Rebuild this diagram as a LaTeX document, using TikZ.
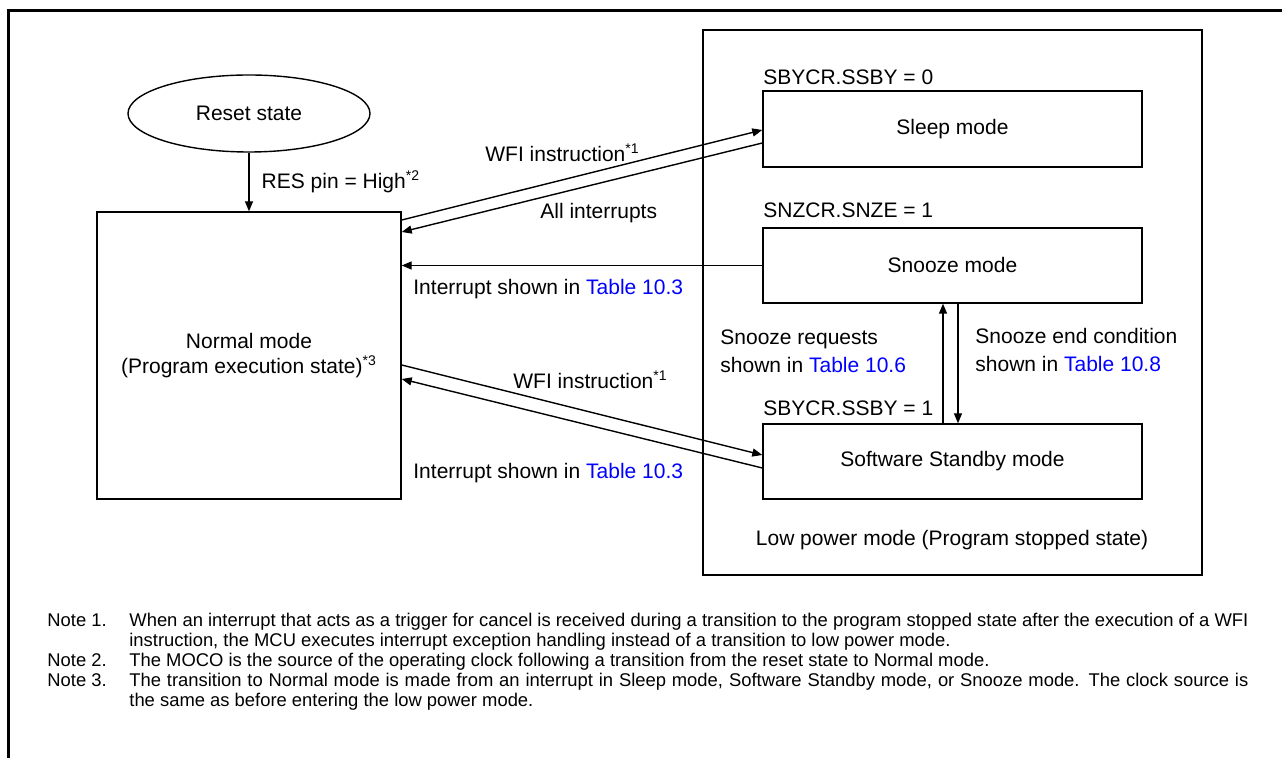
\documentclass[tikz,border=0pt]{standalone}
\usepackage{fontspec}
\setmainfont{Liberation Sans}
\usetikzlibrary{shapes.geometric,arrows.meta}
\definecolor{linkblue}{RGB}{0,0,255}
\newcommand{\lbl}{\fontsize{10.5}{14}\selectfont}
\newcommand{\notefnt}{\fontsize{9.2}{9.85}\selectfont}
\newcommand{\supmark}[1]{\textsuperscript{\fontsize{7}{8}\selectfont #1}}
\newcommand{\fullline}[1]{\makebox[559.5pt][s]{#1}}
\tikzset{
  box/.style={draw, line width=0.7pt, inner sep=0pt, font=\lbl},
  conn/.style={line width=0.7pt, -{Triangle[length=5pt,width=4pt]}},
  txt/.style={inner sep=0pt, font=\lbl},
  notetxt/.style={inner sep=0pt, font=\notefnt, anchor=base west},
}
\begin{document}
\begin{tikzpicture}[x=0.5pt,y=-0.5pt]
\useasboundingbox (0,0) rectangle (1282,758);
% outer frame
\draw[line width=1.5pt] (8.5,758) -- (8.5,10.5) -- (1282,10.5);
% low power container
\node[box, minimum width=249.5pt, minimum height=272.5pt] (lp) at (952.5,302.5) {};
% nodes
\node[box, ellipse, minimum width=121pt, minimum height=38.5pt] (reset) at (249,113.5) {Reset state};
\node[box, minimum width=152pt, minimum height=143.5pt, align=center] (normal) at (249,355.5) {Normal mode\\[-1.5pt](Program execution state)\supmark{*3}};
\node[box, minimum width=189.5pt, minimum height=38pt] (sleep) at (952.5,129) {Sleep mode};
\node[box, minimum width=189.5pt, minimum height=37.5pt] (snooze) at (952.5,265.5) {Snooze mode};
\node[box, minimum width=189.5pt, minimum height=37.5pt] (ssb) at (952.5,461.5) {Software Standby mode};
% labels
\node[txt, anchor=west] (l0) at (763,77) {SBYCR.SSBY = 0};
\node[txt, anchor=west] (l1) at (763,210) {SNZCR.SNZE = 1};
\node[txt, anchor=west] (l2) at (763,408) {SBYCR.SSBY = 1};
\node[txt, anchor=center] (lpl) at (952,540) {Low power mode (Program stopped state)};
% connectors
\draw[conn] (reset.south) -- (normal.north) node[txt, pos=0.5, anchor=west, xshift=6pt] (lres) {RES pin = High\supmark{*2}};
\draw[conn] (normal.east |- 0,220) -- (sleep.west |- 0,130);
\node[txt, anchor=west] (lwfi1) at (485,153) {WFI instruction\supmark{*1}};
\draw[conn] (sleep.west |- 0,143) -- (normal.east |- 0,232);
\node[txt, anchor=west] (lall) at (540,213) {All interrupts};
\draw[conn] (snooze.west) -- (normal.east |- snooze.west);
\node[txt, anchor=west] (lint1) at (413,289) {Interrupt shown in \textcolor{linkblue}{Table 10.3}};
\draw[conn] (normal.east |- 0,365) -- (ssb.west |- 0,455);
\node[txt, anchor=west] (lwfi2) at (513,380) {WFI instruction\supmark{*1}};
\draw[conn] (ssb.west |- 0,468) -- (normal.east |- 0,379);
\node[txt, anchor=west] (lint2) at (413,473) {Interrupt shown in \textcolor{linkblue}{Table 10.3}};
\draw[conn] (ssb.north -| 943,0) -- (snooze.south -| 943,0);
\draw[conn] (snooze.south -| 958,0) -- (ssb.north -| 958,0);
\node[txt, anchor=west, align=left] (lsr) at (720,351) {Snooze requests\\shown in \textcolor{linkblue}{Table 10.6}};
\node[txt, anchor=west, align=left] (lse) at (975,350) {Snooze end condition\\shown in \textcolor{linkblue}{Table 10.8}};
% notes
\node[notetxt] (n1) at (47,627) {Note 1.};
\node[notetxt] (n1a) at (129,627) {\fullline{When an interrupt that acts as a trigger for cancel is received during a transition to the program stopped state after the execution of a WFI}};
\node[notetxt] (n1b) at (129,647) {instruction, the MCU executes interrupt exception handling instead of a transition to low power mode.};
\node[notetxt] (n2) at (47,667) {Note 2.};
\node[notetxt] (n2a) at (129,667) {The MOCO is the source of the operating clock following a transition from the reset state to Normal mode.};
\node[notetxt] (n3) at (47,687) {Note 3.};
\node[notetxt] (n3a) at (129,687) {\fullline{The transition to Normal mode is made from an interrupt in Sleep mode, Software Standby mode, or Snooze mode. The clock source is}};
\node[notetxt] (n3b) at (129,706.5) {the same as before entering the low power mode.};
\end{tikzpicture}
\end{document}
